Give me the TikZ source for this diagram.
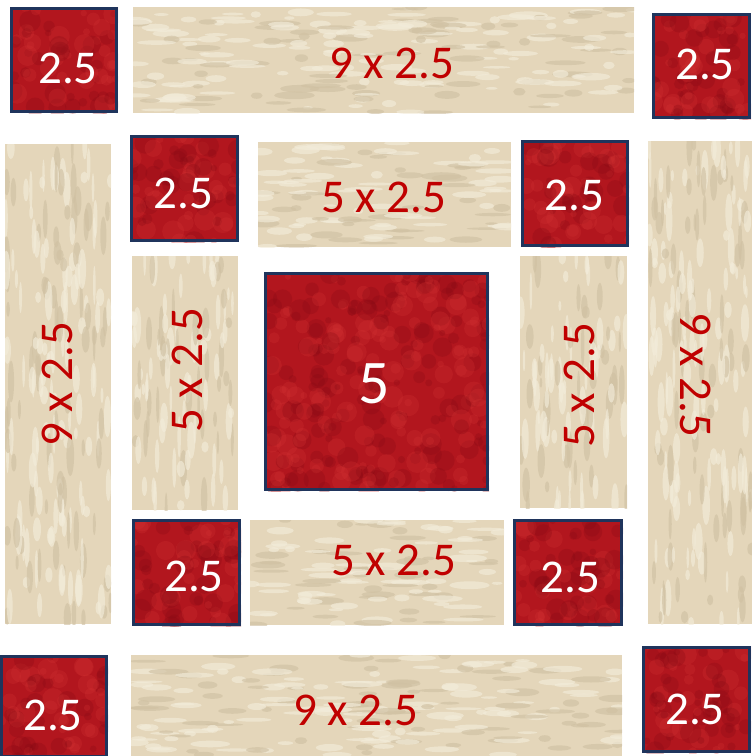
\documentclass[tikz,border=0pt]{standalone}
\usepackage{fontspec}
\setmainfont{Carlito}
\definecolor{leafred}{RGB}{178,22,30}
\definecolor{leafdark}{RGB}{135,10,20}
\definecolor{leaflight}{RGB}{210,50,50}
\definecolor{navy}{RGB}{31,52,92}
\definecolor{sand}{RGB}{228,214,186}
\definecolor{sandlight}{RGB}{243,236,218}
\definecolor{sanddark}{RGB}{208,193,163}
\definecolor{txtred}{RGB}{192,0,0}
\newcommand\sandpatch[5]{% x1 y1 x2 y2 orientation(0=h,1=v)
  \begin{scope}
    \clip (#1,#2) rectangle (#3,#4);
    \fill[sand] (#1,#2) rectangle (#3,#4);
    \pgfmathsetmacro\npatch{int(((#3-#1)/13)*((#4-#2)/20))}
    \foreach \i in {1,...,\npatch}{
      \pgfmathsetmacro\cx{#1+rnd*(#3-#1)}
      \pgfmathsetmacro\cy{#2+rnd*(#4-#2)}
      \pgfmathsetmacro\ra{5+rnd*16}
      \pgfmathsetmacro\rb{1.2+rnd*2.8}
      \pgfmathsetmacro\pick{rnd}
      \ifnum#5=0
        \fill[\ifdim\pick pt<0.6pt sandlight\else sanddark\fi, opacity=.65] (\cx,\cy) ellipse [x radius=\ra, y radius=\rb];
      \else
        \fill[\ifdim\pick pt<0.6pt sandlight\else sanddark\fi, opacity=.65] (\cx,\cy) ellipse [x radius=\rb, y radius=\ra];
      \fi
    }
  \end{scope}}
\newcommand\leafpatch[4]{%
  \begin{scope}
    \clip (#1,#2) rectangle (#3,#4);
    \fill[leafred] (#1,#2) rectangle (#3,#4);
    \pgfmathsetmacro\npatch{int(((#3-#1)/10)*((#4-#2)/16))}
    \foreach \i in {1,...,\npatch}{
      \pgfmathsetmacro\cx{#1+rnd*(#3-#1)}
      \pgfmathsetmacro\cy{#2+rnd*(#4-#2)}
      \pgfmathsetmacro\ra{3+rnd*8}
      \pgfmathsetmacro\pick{rnd}
      \fill[\ifdim\pick pt<0.5pt leaflight\else leafdark\fi, opacity=.28] (\cx,\cy) circle [radius=\ra];
    }
  \end{scope}
  \draw[navy, line width=2.6pt] ({#1+1.3},{#2+1.3}) rectangle ({#3-1.3},{#4-1.3});}
\begin{document}
\begin{tikzpicture}[x=1pt,y=-1pt,
  wtxt/.style={text=white, inner sep=0pt, anchor=base, font=\fontsize{47}{56}\selectfont},
  rtxt/.style={text=txtred, inner sep=0pt, anchor=base, font=\fontsize{47}{56}\selectfont},
  bigtxt/.style={text=white, inner sep=0pt, anchor=base, font=\fontsize{62}{72}\selectfont}]
\useasboundingbox[fill=white] (0,0) rectangle (752,756);
\pgfmathsetseed{7}
% beige strips
\sandpatch{133}{7}{634}{113}{0}
\sandpatch{5}{144}{111}{624}{1}
\sandpatch{648}{141}{752}{624}{1}
\sandpatch{258}{142}{511}{247}{0}
\sandpatch{132}{256}{238}{510}{1}
\sandpatch{520}{256}{627}{508}{1}
\sandpatch{250}{520}{504}{625}{0}
\sandpatch{131}{655}{622}{756}{0}
% red squares
\leafpatch{10}{7}{118}{113}
\leafpatch{652}{13}{751}{119}
\leafpatch{130}{135}{239}{242}
\leafpatch{521}{140}{629}{247}
\leafpatch{132}{519}{241}{626}
\leafpatch{513}{519}{623}{626}
\leafpatch{0}{655}{108}{758}
\leafpatch{642}{646}{751}{753}
\leafpatch{264}{272}{489}{491}
% labels on red squares
\node[wtxt] (l1) at (68,83) {2.5};
\node[wtxt] (l2) at (705,79) {2.5};
\node[wtxt] (l3) at (183.5,208) {2.5};
\node[wtxt] (l4) at (574.5,210) {2.5};
\node[wtxt] (l5) at (194,591) {2.5};
\node[wtxt] (l6) at (570.5,592.5) {2.5};
\node[wtxt] (l7) at (53,730) {2.5};
\node[wtxt] (l8) at (695,724) {2.5};
\node[bigtxt] (l9) at (374,403) {5};
% labels on beige strips
\node[rtxt] (s1) at (391.5,78) {9 x 2.5};
\node[rtxt] (s2) at (384,212) {5 x 2.5};
\node[rtxt] (s3) at (393.5,575.5) {5 x 2.5};
\node[rtxt] (s4) at (356,725) {9 x 2.5};
\node[rtxt, rotate=90] (s5) at (72,384.5) {9 x 2.5};
\node[rtxt, rotate=90] (s6) at (202,370.5) {5 x 2.5};
\node[rtxt, rotate=90] (s7) at (594,385.5) {5 x 2.5};
\node[rtxt, rotate=-90] (s8) at (680,375) {9 x 2.5};
\end{tikzpicture}
\end{document}
